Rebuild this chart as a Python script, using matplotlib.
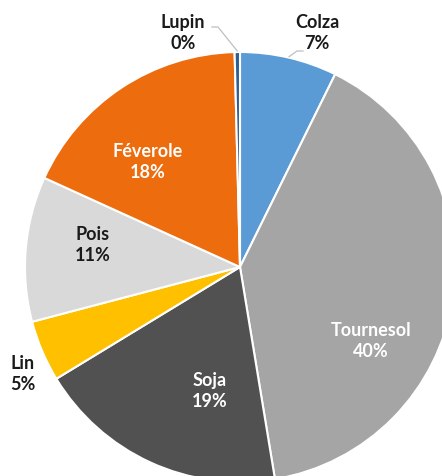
import numpy as np
import matplotlib
matplotlib.use('Agg')
import matplotlib.pyplot as plt

plt.rcParams['font.family'] = ['Lato', 'DejaVu Sans']

# data, clockwise from 12 o'clock
crops = ['Colza', 'Tournesol', 'Soja', 'Lin', 'Pois', 'Féverole', 'Lupin']
shares = [7.3, 40.1, 18.9, 4.6, 10.9, 17.8, 0.4]
colors = ['#5B9BD5', '#A5A5A5', '#515151', '#FFC000', '#D9D9D9', '#EC6C0E', '#2F5F91']
text_colors = ['#1a1a1a', 'white', 'white', '#1a1a1a', '#1a1a1a', 'white', '#1a1a1a']

W, H = 442, 477
cx, cy, R = 240, H - 268, 215

# label centres in pixel space (x, y from top)
label_xy = [(317, 33), (371, 341), (210, 391), (23, 374), (93, 245), (148, 162), (183, 33)]

fig = plt.figure(figsize=(W / 100, H / 100), dpi=100)
ax = fig.add_axes([0, 0, 1, 1])
wedges, _ = ax.pie(shares, colors=colors, startangle=90, counterclock=False,
                   center=(cx, cy), radius=R,
                   wedgeprops=dict(edgecolor='white', linewidth=1.5))
ax.set_xlim(0, W)
ax.set_ylim(0, H)
ax.axis('off')

for name, v, (lx, ly), tc in zip(crops, shares, label_xy, text_colors):
    ax.text(lx, H - ly, '%s\n%d%%' % (name, round(v)), ha='center', va='center',
            color=tc, fontsize=13, fontweight='bold', linespacing=1.35)

# leader lines for the two outside labels at the top (knee / end offsets from label)
leaders = [(0, (-20, 19), (-14, 19)), (6, (35, -5), (29, -5))]
for i, knee, end in leaders:
    w = wedges[i]
    lx, ly = label_xy[i]
    t = np.deg2rad((w.theta1 + w.theta2) / 2)
    px, py = cx + (R + 1) * np.cos(t), cy + (R + 1) * np.sin(t)
    ax.plot([px, lx + knee[0], lx + end[0]],
            [py, H - ly - knee[1], H - ly - end[1]],
            color='#BFBFBF', lw=0.9)

fig.savefig('out.png', dpi=100)
